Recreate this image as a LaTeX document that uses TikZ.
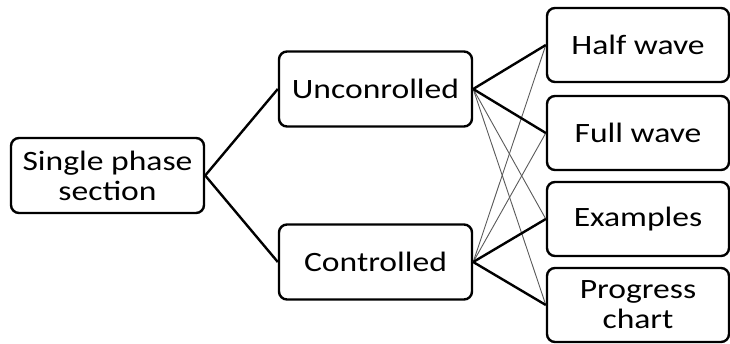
\documentclass[tikz,border=0pt]{standalone}
\usepackage{fontspec}
\setmainfont{Carlito}[FakeStretch=1.2]
\usepackage{tikz}
\usepackage{xcolor}
\definecolor{linegray}{RGB}{90,90,90}

\tikzset{
    box/.style={draw, line width=2.4pt, rounded corners=8pt, align=center,
        font=\fontsize{28}{30}\selectfont, inner sep=0pt},
    midbox/.style={box, minimum width=193pt, minimum height=75pt},
    sidebox/.style={box, minimum width=182pt, minimum height=74pt},
    strong/.style={line width=2.4pt},
    weak/.style={line width=0.9pt, linegray}
}

\begin{document}
\begin{tikzpicture}[x=1pt, y=-1pt]
    \useasboundingbox (0,0) rectangle (730,343);
    \node[midbox] (single) at (107.5,175.5) {Single phase\\section};
    \node[midbox] (uncon) at (375.5,89) {Unconrolled};
    \node[midbox] (contr) at (375.5,262) {Controlled};
    \node[sidebox] (half) at (638,45) {Half wave};
    \node[sidebox] (full) at (638,133) {Full wave};
    \node[sidebox] (examp) at (638,219) {Examples};
    \node[sidebox] (chart) at (638,305) {Progress\\chart};
    % first level
    \draw[strong] (single.east) -- (uncon.west);
    \draw[strong] (single.east) -- (contr.west);
    % second level
    \draw[weak] (uncon.east) -- (examp.west);
    \draw[weak] (uncon.east) -- (chart.west);
    \draw[weak] (contr.east) -- (half.west);
    \draw[weak] (contr.east) -- (full.west);
    \draw[strong] (uncon.east) -- (half.west);
    \draw[strong] (uncon.east) -- (full.west);
    \draw[strong] (contr.east) -- (examp.west);
    \draw[strong] (contr.east) -- (chart.west);
\end{tikzpicture}
\end{document}
